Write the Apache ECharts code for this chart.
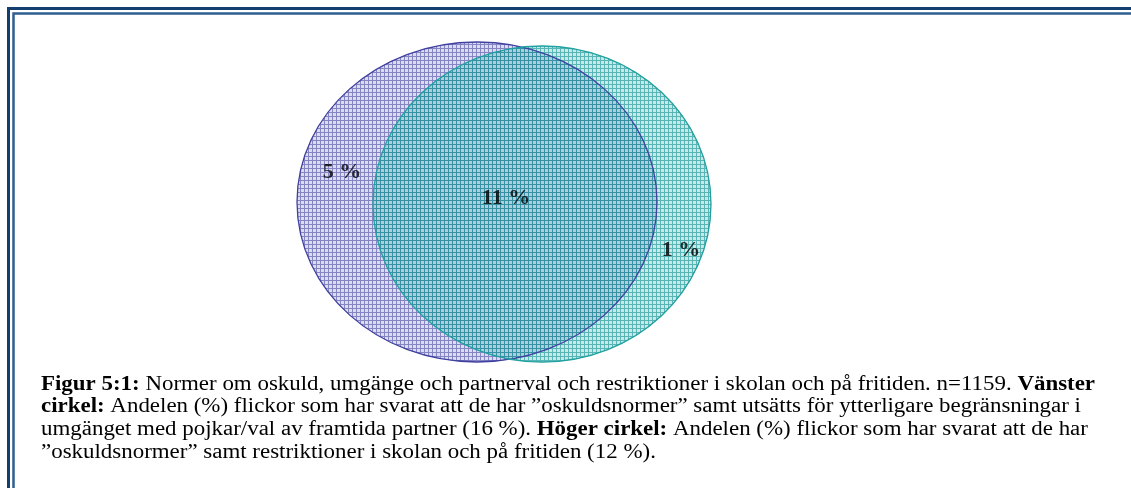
<!DOCTYPE html>
<html>
<head>
<meta charset="utf-8">
<script src="https://cdn.jsdelivr.net/npm/echarts@6/dist/echarts.min.js"></script>
<style>
  html, body { margin: 0; padding: 0; background: #fff; }
  #venn { width: 1131px; height: 488px; }
</style>
</head>
<body>
<div id="venn"></div>
<script>
// two sets (ellipses), in plot units
var setNames = ['Vänster cirkel', 'Höger cirkel'];
var setCx = [477, 542];
var setCy = [202, 204];
var setRx = [180, 169];
var setRy = [160, 158];

// region labels
var regionLabels = ['5 %', '11 %', '1 %'];
var regionValues = [5, 11, 1];
var regionX = [342, 506, 681];
var regionY = [172, 198, 250];

var captionLines = [
    '{b|Figur 5:1:} Normer om oskuld, umgänge och partnerval och restriktioner i skolan och på fritiden. n=1159. {b|Vänster}',
    '{b|cirkel:} Andelen (%) flickor som har svarat att de har \u201doskuldsnormer\u201d samt utsätts för ytterligare begränsningar i',
    'umgänget med pojkar/val av framtida partner (16 %). {b|Höger cirkel:} Andelen (%) flickor som har svarat att de har',
    '\u201doskuldsnormer\u201d samt restriktioner i skolan och på fritiden (12 %).'
];

function plaid(base, line, size){
    var c = document.createElement('canvas');
    c.width = size; c.height = size;
    var g = c.getContext('2d');
    g.fillStyle = base;
    g.fillRect(0, 0, size, size);
    g.fillStyle = line;
    g.fillRect(0, 0, size, 1);
    g.fillRect(0, 1, 1, size - 1);
    return c;
}

var fills = [
    { image: plaid('rgba(110,110,190,0.24)', 'rgba(80,80,170,0.62)', 4), repeat: 'repeat' },
    { image: plaid('rgba(40,165,165,0.25)', 'rgba(20,150,150,0.62)', 4), repeat: 'repeat' }
];
var strokes = ['#4040a0', '#20a0a0'];

var vennData = [];
for (let i = 0; i < setNames.length; i++) {
    vennData.push({ name: setNames[i], value: [setCx[i], setCy[i], setRx[i], setRy[i]] });
}
var labelData = [];
for (let i = 0; i < regionLabels.length; i++) {
    labelData.push({ name: regionLabels[i], value: [regionX[i], regionY[i], regionValues[i]] });
}

var myChart = echarts.init(document.getElementById('venn'));
var option = {
    animation: false,
    grid: { left: 0, right: 0, top: 0, bottom: 0 },
    xAxis: { type: 'value', min: 0, max: 1131, show: false },
    yAxis: { type: 'value', min: 0, max: 488, inverse: true, show: false },
    graphic: [
        { type: 'rect', silent: true, shape: { x: 8.5, y: 8.5, width: 1300, height: 700 },
          style: { fill: 'none', stroke: '#123f70', lineWidth: 3 } },
        { type: 'rect', silent: true, shape: { x: 13.5, y: 13.5, width: 1300, height: 700 },
          style: { fill: 'none', stroke: '#2f5f90', lineWidth: 2.5 } },
        {
            type: 'text',
            silent: true,
            x: 41,
            y: 373,
            scaleX: 1.146,
            style: {
                text: captionLines.join('\n'),
                fontFamily: 'Liberation Serif',
                fontSize: 20,
                fill: '#000',
                lineHeight: 22.7,
                verticalAlign: 'top',
                rich: {
                    b: { fontFamily: 'Liberation Serif', fontSize: 20, fontWeight: 'bold', fill: '#000', lineHeight: 22.7 }
                }
            }
        }
    ],
    series: [
        {
            type: 'custom',
            data: vennData,
            renderItem: function (params, api) {
                var c = api.coord([api.value(0), api.value(1)]);
                var s = api.size([api.value(2), api.value(3)]);
                return {
                    type: 'ellipse',
                    shape: { cx: c[0], cy: c[1], rx: s[0], ry: s[1] },
                    style: { fill: fills[params.dataIndex], stroke: null }
                };
            },
            z: 1
        },
        {
            type: 'custom',
            data: vennData,
            renderItem: function (params, api) {
                var c = api.coord([api.value(0), api.value(1)]);
                var s = api.size([api.value(2), api.value(3)]);
                return {
                    type: 'ellipse',
                    shape: { cx: c[0], cy: c[1], rx: s[0], ry: s[1] },
                    style: { fill: 'none', stroke: strokes[params.dataIndex], lineWidth: 1.3 }
                };
            },
            z: 2
        },
        {
            type: 'scatter',
            data: labelData,
            symbolSize: 0,
            z: 3,
            label: {
                show: true,
                position: 'inside',
                formatter: function (p) { return p.data.name; },
                fontFamily: 'Liberation Serif',
                fontWeight: 'bold',
                fontSize: 22,
                color: '#000'
            }
        }
    ]
};
myChart.setOption(option);
</script>
</body>
</html>
